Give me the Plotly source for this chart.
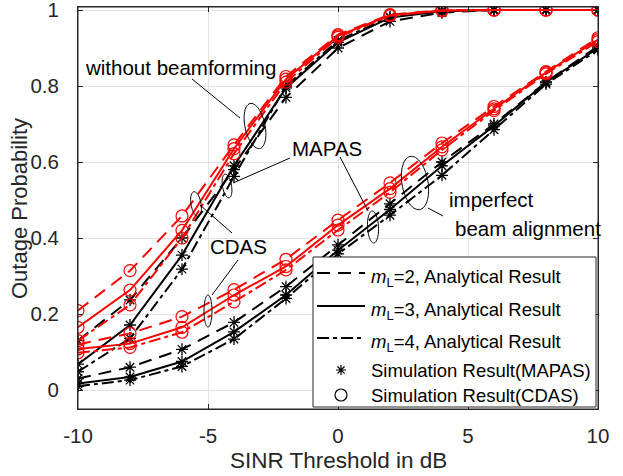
import numpy as np
import plotly.graph_objects as go

# ---------------- data ----------------
snr_db = [-10, -8, -6, -4, -2, 0, 2, 4, 6, 8, 10]

# steep group (upper cluster)
mapas_up_m2 = [0.130, 0.237, 0.400, 0.580, 0.770, 0.900, 0.970, 0.993, 1.0, 1.0, 1.0]
mapas_up_m3 = [0.068, 0.171, 0.355, 0.590, 0.795, 0.915, 0.980, 0.997, 1.0, 1.0, 1.0]
mapas_up_m4 = [0.048, 0.136, 0.318, 0.562, 0.800, 0.920, 0.982, 0.998, 1.0, 1.0, 1.0]
cdas_up_m2 = [0.209, 0.314, 0.458, 0.645, 0.825, 0.935, 0.988, 0.999, 1.0, 1.0, 1.0]
cdas_up_m3 = [0.165, 0.263, 0.420, 0.635, 0.818, 0.932, 0.986, 0.999, 1.0, 1.0, 1.0]
cdas_up_m4 = [0.130, 0.224, 0.400, 0.622, 0.810, 0.928, 0.985, 0.998, 1.0, 1.0, 1.0]

# imperfect beam alignment (lower cluster)
mapas_lo_m2 = [0.030, 0.060, 0.107, 0.178, 0.272, 0.382, 0.490, 0.600, 0.700, 0.810, 0.905]
mapas_lo_m3 = [0.017, 0.034, 0.075, 0.153, 0.250, 0.368, 0.475, 0.590, 0.695, 0.810, 0.900]
mapas_lo_m4 = [0.010, 0.026, 0.062, 0.134, 0.241, 0.358, 0.460, 0.565, 0.685, 0.805, 0.895]
cdas_lo_m2 = [0.120, 0.149, 0.193, 0.264, 0.344, 0.447, 0.545, 0.650, 0.746, 0.838, 0.927]
cdas_lo_m3 = [0.108, 0.122, 0.165, 0.250, 0.325, 0.434, 0.530, 0.640, 0.740, 0.835, 0.922]
cdas_lo_m4 = [0.098, 0.112, 0.152, 0.232, 0.316, 0.421, 0.520, 0.632, 0.735, 0.832, 0.917]

x_tick_vals = [-10, -5, 0, 5, 10]
x_tick_text = ["-10", "-5", "0", "5", "10"]
y_tick_vals = [0, 0.2, 0.4, 0.6, 0.8, 1]
y_tick_text = ["0", "0.2", "0.4", "0.6", "0.8", "1"]

legend_labels = ["<i>m</i><sub>L</sub>=2, Analytical Result",
                 "<i>m</i><sub>L</sub>=3, Analytical Result",
                 "<i>m</i><sub>L</sub>=4, Analytical Result",
                 "Simulation Result(MAPAS)",
                 "Simulation Result(CDAS)"]

# ---------------- styling ----------------
FONT = "Liberation Sans, Arial, sans-serif"
AX = "#262626"
DASH = {2: "13px,8px", 3: "solid", 4: "12px,4px,4px,4px"}

# layout geometry (pixels)
W, H = 623, 476
L, R, T, B = 78, 25, 7, 67
XR = [-10, 10]
YR = [-0.05, 1.0079]
pw = W - L - R
ph = H - T - B


def px2x(px):
    return XR[0] + (px - L) / pw * (XR[1] - XR[0])


def px2y(py):
    return YR[1] - (py - T) / ph * (YR[1] - YR[0])


def px2paperx(px):
    return (px - L) / pw


def px2papery(py):
    return 1 - (py - T) / ph


fig = go.Figure()

black_sets = [(mapas_up_m2, 2), (mapas_up_m3, 3), (mapas_up_m4, 4),
              (mapas_lo_m2, 2), (mapas_lo_m3, 3), (mapas_lo_m4, 4)]
red_sets = [(cdas_up_m2, 2), (cdas_up_m3, 3), (cdas_up_m4, 4),
            (cdas_lo_m2, 2), (cdas_lo_m3, 3), (cdas_lo_m4, 4)]

for ys, m in black_sets:
    fig.add_trace(go.Scatter(
        x=snr_db, y=ys, mode="lines+markers", showlegend=False,
        line=dict(color="black", width=2, dash=DASH[m]),
        marker=dict(symbol="asterisk-open", size=10,
                    line=dict(color="black", width=1.3))))
for ys, m in red_sets:
    fig.add_trace(go.Scatter(
        x=snr_db, y=ys, mode="lines+markers", showlegend=False,
        line=dict(color="red", width=2, dash=DASH[m]),
        marker=dict(symbol="circle-open", size=12, color="red",
                    line=dict(color="red", width=1.2))))

shapes = []
annotations = []


def ellipse(cx, cy, a, b, tilt_deg):
    th = np.deg2rad(tilt_deg)
    t = np.linspace(0, 2 * np.pi, 60)
    ex = a * np.cos(t)
    ey = b * np.sin(t)
    xs = cx + ex * np.cos(th) + ey * np.sin(th)
    ys = cy - ex * np.sin(th) + ey * np.cos(th)
    pts = [f"{px2x(u):.5f},{px2y(v):.5f}" for u, v in zip(xs, ys)]
    path = "M " + " L ".join(pts) + " Z"
    shapes.append(dict(type="path", path=path, xref="x", yref="y",
                       line=dict(color="black", width=1), layer="above"))


def seg(x0, y0, x1, y1, color="black", width=1, dash="solid"):
    shapes.append(dict(type="line", xref="x", yref="y",
                       x0=px2x(x0), y0=px2y(y0), x1=px2x(x1), y1=px2y(y1),
                       line=dict(color=color, width=width, dash=dash),
                       layer="above"))


def text(s, x, y, size, xanchor="center", color="black", angle=0):
    annotations.append(dict(text=s, x=px2paperx(x), y=px2papery(y),
                            xref="paper", yref="paper",
                            showarrow=False, xanchor=xanchor, yanchor="middle",
                            textangle=angle,
                            font=dict(family=FONT, size=size, color=color)))


# ellipses (tilt positive: top leans right)
ellipse(255, 126, 10, 23, 12)     # without beamforming
ellipse(227, 186, 4.5, 12, 10)    # MAPAS (perfect)
ellipse(196, 204, 5, 12.5, 10)    # CDAS (perfect)
ellipse(208, 311, 4, 16, 0)       # CDAS (imperfect)
ellipse(373, 227, 5.5, 16, 3)     # MAPAS (imperfect)
ellipse(415, 183, 13, 27, 10)     # imperfect beam alignment

# leader lines
seg(192, 79, 240, 118)
seg(290, 158, 233, 183)
seg(340, 157, 368, 211)
seg(232, 233, 200, 205)
seg(238, 260, 212, 295)
seg(428, 208, 443, 216)

text("without beamforming", 180.5, 67, 20.5)
text("MAPAS", 326.5, 148, 20.5)
text("CDAS", 238.7, 247, 20.5)
text("imperfect", 446.7, 199, 20.5, "left")
text("beam alignment", 452.7, 228, 20.5, "left")

# custom legend
shapes.append(dict(type="rect", xref="x", yref="y",
                   x0=px2x(313), x1=px2x(596), y0=px2y(407), y1=px2y(257),
                   fillcolor="white", line=dict(color=AX, width=1), layer="above"))
row_y = [273, 306, 338, 370, 395]
for i, m in enumerate([2, 3, 4]):
    seg(317, row_y[i], 365, row_y[i], "black", 2, DASH[m])
# asterisk glyph
cx, cy, r = 341, row_y[3], 5
parts = []
for ang in [0, 45, 90, 135]:
    a = np.deg2rad(ang)
    dx, dy = r * np.cos(a), r * np.sin(a)
    parts.append(f"M {px2x(cx - dx):.5f},{px2y(cy - dy):.5f} L {px2x(cx + dx):.5f},{px2y(cy + dy):.5f}")
shapes.append(dict(type="path", path=" ".join(parts), xref="x", yref="y",
                   line=dict(color="black", width=1.2), layer="above"))
cx, cy, r = 341, row_y[4], 6
shapes.append(dict(type="circle", xref="x", yref="y",
                   x0=px2x(cx - r), x1=px2x(cx + r), y0=px2y(cy + r), y1=px2y(cy - r),
                   line=dict(color="black", width=1.2), layer="above"))
for i, lab in enumerate(legend_labels):
    yy = row_y[i] + (5 if i < 3 else 0)
    text(lab, 369, yy, 18.5, "left")

# axis titles
text("SINR Threshold in dB", L + pw / 2, 460, 22.5, "center", AX)
text("Outage Probability", 19, 209, 22, "center", AX, -90)

# frame
shapes.append(dict(type="rect", xref="paper", yref="paper", x0=0, x1=1, y0=0, y1=1,
                   line=dict(color=AX, width=1), layer="above"))

fig.update_layout(
    width=W, height=H,
    margin=dict(l=L, r=R, t=T, b=B, autoexpand=False),
    paper_bgcolor="white", plot_bgcolor="white",
    shapes=shapes, annotations=annotations,
    font=dict(family=FONT, size=20.5, color=AX),
)
fig.update_xaxes(range=XR, tickvals=x_tick_vals, ticktext=x_tick_text,
                 showgrid=True, gridcolor="#e3e3e3", gridwidth=1,
                 zeroline=False, showline=True, linecolor=AX, linewidth=1,
                 mirror="ticks", ticks="inside", ticklen=5, tickcolor=AX,
                 ticklabelstandoff=8, ticklabeloverflow="allow", automargin=False,
                 tickfont=dict(family=FONT, size=20.5, color=AX))
fig.update_yaxes(range=YR, tickvals=y_tick_vals, ticktext=y_tick_text,
                 showgrid=True, gridcolor="#e3e3e3", gridwidth=1,
                 zeroline=False, showline=True, linecolor=AX, linewidth=1,
                 mirror="ticks", ticks="inside", ticklen=5, tickcolor=AX,
                 ticklabelstandoff=14, ticklabeloverflow="allow", automargin=False,
                 tickfont=dict(family=FONT, size=20.5, color=AX))

fig.write_html("out.html")
